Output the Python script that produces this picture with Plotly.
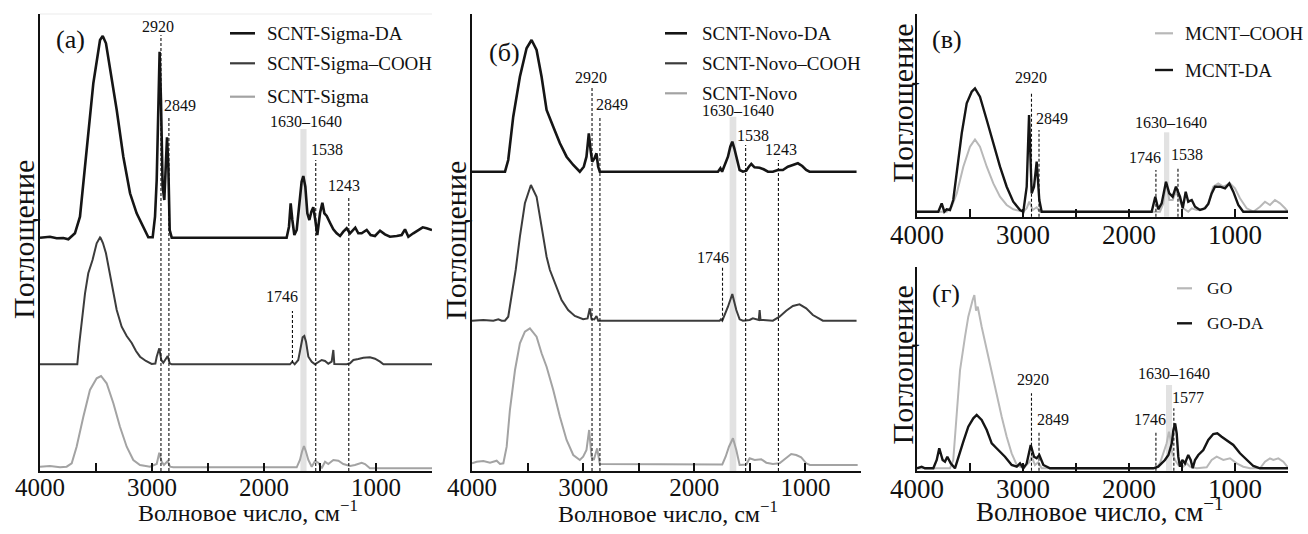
import plotly.graph_objects as go

W, H = 1308, 534
FONT = "Liberation Serif"

# ---------------- data (wavenumber, cm-1 ; absorbance, arb. units, stacked) ----------------
# panel (а)
a_da_wn = [4000, 3911, 3851, 3792, 3747, 3688, 3643, 3583, 3524, 3464, 3440, 3411, 3375, 3315, 3256, 3196, 3137, 3077, 3033, 2994,
           2973, 2958, 2943, 2932, 2920, 2905, 2890, 2878, 2866, 2854, 2842, 2824, 1798, 1777, 1762, 1747, 1729, 1708, 1687, 1664,
           1649, 1631, 1613, 1595, 1577, 1560, 1542, 1524, 1500, 1479, 1461, 1440, 1411, 1381, 1351, 1321, 1292, 1262, 1232, 1208,
           1185, 1158, 1128, 1083, 1048, 1009, 964, 920, 875, 815, 771, 741, 711, 667, 622, 583, 548, 512, 500]
a_da_y = [233.3, 234.3, 232.7, 233, 231.7, 237.7, 254.3, 321, 387.7, 431, 435, 427.7, 404.3, 361, 314.3, 277.7, 257.7, 244.3, 233.7, 233.7,
          254.3, 291, 371, 419.3, 371, 284.3, 271, 311, 333.7, 304.3, 241, 233.3, 233.3, 244.3, 267.7, 251, 236, 241, 264.3, 289.3,
          295, 284.3, 257.7, 251, 259.3, 263.7, 251, 236, 257.7, 268.3, 257.7, 255, 248.3, 241.7, 237.7, 235, 239.3, 242.7, 237.7, 241,
          243.3, 237.7, 237.7, 241, 236, 235, 240.3, 236.7, 234.3, 235, 236, 241.7, 234.3, 237.7, 241, 243.7, 242.7, 241, 241]
a_cooh_wn = [4000, 3667, 3649, 3628, 3598, 3569, 3531, 3494, 3464, 3458, 3438, 3411, 3384, 3351, 3315, 3271, 3226, 3181, 3143, 3107,
             3054, 3003, 2970, 2958, 2935, 2917, 2899, 2860, 2842, 2824, 1768, 1747, 1726, 1694, 1670, 1655, 1640, 1625, 1604, 1574,
             1545, 1515, 1485, 1455, 1426, 1396, 1381, 1372, 1262, 1232, 1202, 1158, 1113, 1054, 1009, 964, 934, 500]
a_cooh_y = [106.7, 106.7, 127.7, 151, 177.7, 197.7, 211, 227.7, 233.7, 233, 228, 217.7, 201, 184.3, 161, 144.3, 135, 128, 120, 114.3,
            110, 107, 107.5, 114.3, 122.7, 111, 108.3, 115, 107.7, 106.7, 106.7, 109.3, 106.7, 111, 124.3, 133.7, 135, 129.3, 114.3, 109.3,
            106.7, 109.3, 111, 110, 107.3, 109.3, 121, 107, 106.7, 107.7, 111, 112, 113.3, 113.7, 112.3, 109.3, 106.7, 106.7]
a_pl_wn = [4000, 3911, 3821, 3762, 3717, 3673, 3613, 3554, 3494, 3455, 3405, 3345, 3286, 3226, 3167, 3107, 3018, 2958, 2935, 2914,
           2893, 2860, 2839, 2810, 1708, 1679, 1661, 1643, 1625, 1604, 1574, 1545, 1515, 1485, 1455, 1426, 1381, 1351, 1336, 1292,
           1232, 1188, 1143, 1128, 1098, 1054, 500]
a_pl_y = [4.3, 5, 3.7, 4.3, 7.7, 24.3, 54.3, 81, 92.7, 95, 87.7, 67.7, 44.3, 24.3, 11, 6, 4.3, 7, 18.3, 9.3,
          6, 10, 4.3, 3.7, 3.7, 11, 19.3, 25, 19.3, 11, 4.3, 10, 8.3, 2.7, 9.3, 7, 11, 11, 10.3, 7,
          5, 6, 8.3, 8.3, 7, 2.7, 2.7]

# panel (б)
b_da_wn = [4000, 3703, 3674, 3629, 3569, 3509, 3464, 3419, 3374, 3329, 3269, 3209, 3149, 3089, 3030, 2994, 2970, 2949, 2933, 2919,
           2898, 2880, 2865, 2850, 1787, 1765, 1750, 1697, 1676, 1658, 1640, 1622, 1592, 1562, 1532, 1509, 1487, 1458, 1412, 1376,
           1337, 1293, 1248, 1203, 1158, 1113, 1068, 1029, 993, 963, 540]
b_da_y = [299.3, 299.3, 311, 354.3, 394.3, 422.7, 431, 421, 394.3, 361, 344.3, 327.7, 314.3, 306, 299.3, 304.3, 314.3, 337.7, 321, 309.3,
          312.7, 317.7, 304.3, 299.3, 299.3, 302.7, 299.3, 314.3, 324.3, 329.3, 322.7, 314.3, 301, 299.3, 300.3, 304.3, 307, 303.7, 303.3, 301.7,
          299.3, 299.3, 301, 301, 304.3, 306, 307.7, 305, 301, 299.3, 299.3]
b_cooh_wn = [4000, 3898, 3808, 3763, 3733, 3704, 3674, 3643, 3607, 3569, 3524, 3470, 3419, 3374, 3329, 3299, 3254, 3194, 3135, 3075,
             3000, 2960, 2940, 2925, 2900, 2880, 2865, 1772, 1760, 1748, 1697, 1658, 1622, 1592, 1562, 1502, 1473, 1443, 1420, 1412,
             1404, 1380, 1293, 1233, 1173, 1113, 1053, 993, 933, 843, 540]
b_cooh_y = [150.3, 151, 150.3, 151.7, 150.3, 150.3, 154.3, 174.3, 201, 234.3, 267.7, 286, 274.3, 244.3, 214.3, 201, 187.7, 171, 161, 155,
            151.7, 152.5, 162.7, 152, 151.5, 155, 150.3, 150.3, 151.7, 150.3, 164.3, 177, 161, 151.7, 150.3, 151, 152.7, 151.7, 151, 161,
            151, 151, 150.3, 154.3, 160.3, 165, 166.7, 162.7, 156, 150.3, 150.3]
b_pl_wn = [4000, 3958, 3898, 3838, 3778, 3748, 3718, 3688, 3659, 3613, 3569, 3524, 3479, 3419, 3374, 3329, 3269, 3209, 3149, 3089,
           3030, 3000, 2970, 2946, 2925, 2904, 2874, 2850, 1748, 1718, 1688, 1652, 1622, 1592, 1532, 1502, 1457, 1397, 1352, 1293,
           1233, 1173, 1128, 1083, 1038, 993, 960, 530]
b_pl_y = [7.7, 9.3, 10, 8.3, 10.3, 7, 7.7, 24.3, 61, 101, 127.7, 139.3, 142.7, 134.3, 117.7, 104.3, 81, 54.3, 31, 16,
          11, 14.3, 21, 41, 14.3, 11, 22.7, 7, 6.5, 14.3, 24.3, 32.7, 21, 6, 6.5, 12.7, 11, 11.7, 8.3, 7,
          7.7, 12.7, 17, 16, 13.7, 7.7, 6, 6]

# panel (в)
c_da_wn = [4000, 3799, 3767, 3742, 3720, 3689, 3658, 3625, 3578, 3531, 3484, 3453, 3406, 3342, 3280, 3217, 3154, 3092, 3028, 2997,
           2965, 2943, 2918, 2896, 2871, 2846, 2824, 1786, 1752, 1724, 1692, 1651, 1620, 1588, 1557, 1519, 1493, 1465, 1441, 1408,
           1377, 1330, 1283, 1252, 1220, 1189, 1141, 1094, 1054, 1016, 969, 922, 500]
c_da_y = [5, 5, 13.3, 5, 7.4, 6.7, 16.7, 43.3, 83.3, 113.3, 125, 128.3, 120, 96.7, 73.3, 50, 30, 15, 6.7, 5,
          30, 101.7, 23.3, 30, 55, 16.7, 5, 5, 20, 7.4, 13.3, 35, 23.3, 20, 30, 20, 8.4, 25, 15, 16.7,
          10, 6.7, 8.4, 12.7, 23.3, 30, 30, 28.4, 33.3, 25, 11.7, 5, 5]
c_cooh_wn = [4000, 3720, 3673, 3625, 3563, 3500, 3453, 3406, 3342, 3280, 3217, 3154, 3092, 2997, 2965, 2941, 2908, 2871, 2840, 1708,
             1676, 1651, 1620, 1588, 1557, 1525, 1487, 1441, 1408, 1361, 1298, 1252, 1205, 1158, 1111, 1047, 1000, 953, 890, 827,
             764, 717, 670, 623, 575, 528, 500]
c_cooh_y = [5, 5, 10, 23.3, 50, 70, 77.3, 70, 50, 33.3, 20, 11.7, 7.4, 5, 8.4, 15, 6.7, 9.4, 5, 5,
            13.3, 35, 16.7, 16.7, 25, 16.7, 8.4, 5, 8.4, 6.7, 7.4, 13.3, 30, 33.3, 30, 33.3, 28.4, 18.4, 8.4, 5,
            10, 15, 11.7, 16.7, 13.3, 8.4, 5]

# panel (г)
d_da_wn = [4000, 3956, 3925, 3846, 3814, 3790, 3758, 3736, 3714, 3682, 3642, 3610, 3563, 3516, 3469, 3437, 3390, 3342, 3295, 3233,
           3170, 3107, 3059, 3028, 2997, 2965, 2927, 2896, 2871, 2846, 2808, 2745, 1771, 1724, 1692, 1661, 1628, 1596, 1581, 1565,
           1550, 1535, 1519, 1497, 1472, 1441, 1418, 1399, 1377, 1346, 1299, 1252, 1205, 1167, 1126, 1078, 1016, 953, 890, 827,
           764, 500]
d_da_y = [2.4, 4, 2.4, 2.4, 10.7, 22.4, 10.7, 9, 14, 7.4, 2.4, 14, 29, 44, 52.4, 55.7, 50.7, 40.7, 27.4, 20.7,
          14, 5.7, 4, 7.4, 2.4, 7.4, 25.7, 14, 12.4, 15.7, 5.7, 2.4, 2.4, 4, 7.4, 10.7, 15.7, 27.4, 40.7, 47.3,
          37.4, 14, 4, 10.7, 7.4, 15.7, 10.7, 2.4, 10.7, 15.7, 20.7, 30.7, 36.7, 37.4, 34, 30.7, 25.7, 17.4, 10.7, 4.7,
          2.4, 2.4]
d_go_wn = [4000, 3689, 3658, 3625, 3594, 3547, 3516, 3475, 3459, 3443, 3427, 3390, 3342, 3295, 3248, 3201, 3154, 3107, 3059, 2997,
           2941, 2918, 2887, 2856, 2824, 1745, 1708, 1676, 1645, 1623, 1607, 1592, 1566, 1535, 1488, 1456, 1425, 1361, 1267, 1220,
           1173, 1110, 1047, 984, 922, 858, 764, 717, 670, 638, 591, 544, 512, 500]
d_go_y = [2.4, 2.4, 10.7, 60.7, 100.7, 134, 154, 170.7, 175.7, 160, 164, 144, 120.7, 97.4, 74, 54, 34, 17.4, 5.7, 2.4,
          8.4, 14, 5.7, 8.4, 2.4, 2.4, 7.4, 17.4, 27.4, 39, 30.7, 17.4, 10.7, 5.7, 4, 7.4, 4, 2.4, 3.4, 10.7,
          14, 10.7, 12.4, 7.4, 4, 2.4, 2.4, 9, 12.4, 10.7, 12.4, 9, 4, 3]

tick_vals = [4000, 3500, 3000, 2500, 2000, 1500, 1000, 500]
tick_text = ["4000", "", "3000", "", "2000", "", "1000", ""]
band_label = "1630–1640"
y_title = "Поглощение"
x_title = "Волновое число, см<sup>−1</sup>"

# ---------------- helpers ----------------
def px(x):
    return x / W


def py(y):
    return 1 - y / H


BLACK = "#151515"
DARK = "#3c3c3c"
LIGHT = "#a3a3a3"
LIGHT2 = "#b8b8b8"

fig = go.Figure()


def add(wn, y, color, width, ax):
    fig.add_trace(go.Scatter(x=wn, y=y, mode="lines", line=dict(color=color, width=width),
                             xaxis="x" + ax, yaxis="y" + ax, showlegend=False, hoverinfo="skip"))


add(a_pl_wn, a_pl_y, LIGHT, 2, "")
add(a_cooh_wn, a_cooh_y, DARK, 2, "")
add(a_da_wn, a_da_y, BLACK, 2.6, "")
add(b_pl_wn, b_pl_y, LIGHT, 2, "2")
add(b_cooh_wn, b_cooh_y, DARK, 2, "2")
add(b_da_wn, b_da_y, BLACK, 2.6, "2")
add(c_cooh_wn, c_cooh_y, LIGHT2, 2, "3")
add(c_da_wn, c_da_y, BLACK, 2.4, "3")
add(d_go_wn, d_go_y, LIGHT2, 2, "4")
add(d_da_wn, d_da_y, BLACK, 2.4, "4")

# panel geometry (pixels): x0, x1, top, bottom
panels = {
    "": (40, 432, 14, 471),
    "2": (472, 861, 14, 471),
    "3": (917, 1288, 14, 216.7),
    "4": (917, 1288, 267, 470.7),
}
tick_font = {"": 25, "2": 25, "3": 27, "4": 27}

layout = dict(width=W, height=H, margin=dict(l=0, r=0, t=0, b=0, pad=0, autoexpand=False),
              paper_bgcolor="white", plot_bgcolor="white", showlegend=False,
              font=dict(family=FONT, color="#111"))
for ax, (x0, x1, top, bot) in panels.items():
    layout["xaxis" + ax] = dict(domain=[px(x0), px(x1)], range=[4000, 500], anchor="y" + ax, automargin=False,
                                showgrid=False, zeroline=False, showline=True, linecolor="#111", linewidth=2,
                                ticks="inside", ticklen=8, tickwidth=2, tickcolor="#111",
                                tickmode="array", tickvals=tick_vals, ticktext=tick_text,
                                ticklabelstandoff=-7,
                                tickfont=dict(family=FONT, size=tick_font[ax], color="#111"))
    layout["yaxis" + ax] = dict(domain=[py(bot), py(top)], range=[0, bot - top], anchor="x" + ax, automargin=False,
                                showgrid=False, zeroline=False, showline=True, linecolor="#111", linewidth=2,
                                showticklabels=False, ticks="")
fig.update_layout(**layout)

shapes = []
ann = []


def vline(ax, wn, top, bot):
    shapes.append(dict(type="line", xref="x" + ax, yref="paper", x0=wn, x1=wn, y0=py(bot), y1=py(top),
                       line=dict(color="#111", width=1.1, dash="3px,2px")))


def band(ax, w0, w1, top, bot):
    shapes.append(dict(type="rect", xref="x" + ax, yref="paper", x0=w0, x1=w1, y0=py(bot), y1=py(top),
                       fillcolor="#e2e2e2", line=dict(width=0), layer="below"))


def label(text, cx, cy, size=16, anchor="center", angle=0):
    ann.append(dict(text=text, xref="paper", yref="paper", x=px(cx), y=py(cy), xanchor=anchor, yanchor="middle",
                    showarrow=False, textangle=angle, font=dict(family=FONT, size=size, color="#111")))


def legend_item(text, color, width, x0, x1, y, tx, size):
    shapes.append(dict(type="line", xref="paper", yref="paper", x0=px(x0), x1=px(x1), y0=py(y), y1=py(y),
                       line=dict(color=color, width=width)))
    label(text, tx, y, size=size, anchor="left")


# panel (а)
band("", 1675, 1620, 129, 471)
vline("", 2920, 35, 471)
vline("", 2849, 116.7, 471)
vline("", 1746, 311, 363)
vline("", 1538, 160, 471)
vline("", 1243, 197, 471)
label("2920", 158, 26.7)
label("2849", 180, 105)
label(band_label, 306, 121.7)
label("1538", 327, 149)
label("1243", 344, 185)
label("1746", 282, 296.7)
label("(а)", 70, 40, size=26)
shapes.append(dict(type="line", xref="paper", yref="paper", x0=px(40), x1=px(432), y0=py(14), y1=py(14),
                   line=dict(color="#ebebeb", width=1)))
legend_item("SCNT-Sigma-DA", BLACK, 2.6, 230, 255, 33.3, 265, 19)
legend_item("SCNT-Sigma–COOH", DARK, 2.2, 230, 255, 63.3, 265, 19)
legend_item("SCNT-Sigma", LIGHT, 2.2, 230, 255, 96.7, 265, 19)
label(y_title, 23, 240, size=30, angle=-90)
label(x_title, 248, 511, size=24)

# panel (б)
band("2", 1682, 1622, 116.7, 471)
vline("2", 2920, 88, 471)
vline("2", 2849, 118, 471)
vline("2", 1746, 266.7, 320.7)
vline("2", 1538, 145, 471)
vline("2", 1243, 160, 471)
label("2920", 590.7, 77.3)
label("2849", 612, 104)
label(band_label, 738, 110)
label("1538", 753, 135)
label("1243", 781, 149.3)
label("1746", 713, 257.7)
label("(б)", 504, 52, size=26)
legend_item("SCNT-Novo-DA", BLACK, 2.6, 665, 687, 33.3, 700, 19)
legend_item("SCNT-Novo–COOH", DARK, 2.2, 665, 687, 63.3, 700, 19)
legend_item("SCNT-Novo", LIGHT, 2.2, 665, 687, 93.3, 700, 19)
label(y_title, 455, 241, size=30, angle=-90)
label(x_title, 667.5, 512, size=24)

# panel (в)
band("3", 1670, 1620, 132.3, 216.7)
vline("3", 2920, 91.7, 216.7)
vline("3", 2849, 130, 216.7)
vline("3", 1746, 170, 216.7)
vline("3", 1538, 166.7, 216.7)
label("2920", 1031.3, 77.3)
label("2849", 1052, 118.3)
label(band_label, 1171.3, 122.3)
label("1746", 1145, 157.3)
label("1538", 1187, 154)
label("(в)", 947, 40, size=26)
legend_item("MCNT–COOH", LIGHT2, 2.2, 1155, 1173, 33.3, 1183.3, 19)
legend_item("MCNT-DA", BLACK, 2.4, 1155, 1173, 70, 1183.3, 19)
label(y_title, 901.7, 103, size=30, angle=-90)

# panel (г)
band("4", 1651, 1594, 385, 470.7)
vline("4", 2920, 393.3, 470.7)
vline("4", 2849, 430.7, 470.7)
vline("4", 1746, 431.7, 470.7)
vline("4", 1577, 408.3, 470.7)
label("2920", 1032.8, 379)
label("2849", 1053, 419)
label(band_label, 1174, 373.3)
label("1746", 1149.7, 419.3)
label("1577", 1188, 397.7)
label("(г)", 946, 293, size=26)
legend_item("GO", LIGHT2, 2.2, 1177, 1192, 288.3, 1205, 17.5)
legend_item("GO-DA", BLACK, 2.4, 1177, 1192, 323.3, 1205, 17.5)
label(y_title, 902, 365.5, size=30, angle=-90)
label(x_title, 1099, 510, size=27)

fig.update_layout(shapes=shapes, annotations=ann)
fig.write_html("out.html", config={"displayModeBar": False},
               post_script="document.body.style.margin='0px';")
